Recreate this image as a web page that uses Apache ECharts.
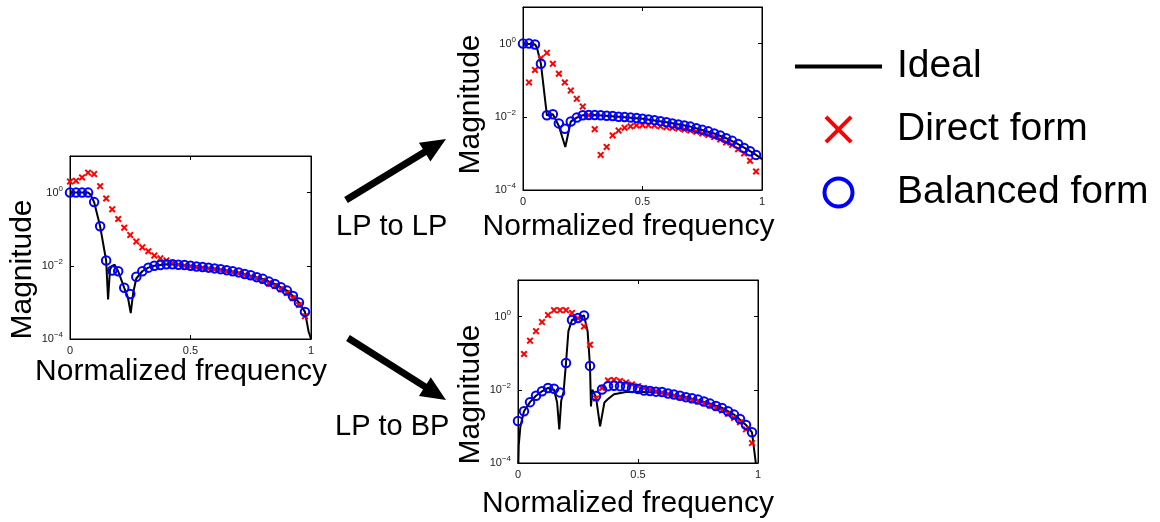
<!DOCTYPE html>
<html>
<head>
<meta charset="utf-8">
<script src="https://cdn.jsdelivr.net/npm/echarts@6/dist/echarts.min.js"></script>
<style>
  html, body { margin: 0; padding: 0; background: #fff; }
  #main { width: 1160px; height: 522px; }
</style>
</head>
<body>
<div id="main"></div>
<script>
// sample frequencies of the marker series
var freq = [0, 0.025, 0.05, 0.075, 0.1, 0.125, 0.15, 0.175, 0.2, 0.225,
  0.25, 0.275, 0.3, 0.325, 0.35, 0.375, 0.4, 0.425, 0.45, 0.475,
  0.5, 0.525, 0.55, 0.575, 0.6, 0.625, 0.65, 0.675, 0.7, 0.725,
  0.75, 0.775, 0.8, 0.825, 0.85, 0.875, 0.9, 0.925, 0.95, 0.975];

// left plot: LP prototype
var idealX1 = [0, 0.075, 0.085, 0.1, 0.125, 0.15, 0.158, 0.166, 0.175, 0.185, 0.2, 0.225, 0.24, 0.252, 0.262,
  0.275, 0.3, 0.325, 0.35, 0.4, 0.45, 0.5, 0.6, 0.7, 0.8, 0.85, 0.9, 0.925, 0.95, 0.975, 0.99, 1.0];
var ideal1 = [1, 1, 0.89, 0.55, 0.12, 0.014, 0.0012, 0.0079, 0.01, 0.0107, 0.0071, 0.0025, 0.0014, 0.00051, 0.0018,
  0.0045, 0.0071, 0.0089, 0.01, 0.011, 0.0107, 0.01, 0.0085, 0.0066, 0.0044, 0.0032, 0.0021, 0.0015, 0.001, 0.00055, 0.00016, 0.0001];
var direct1 = [2.0, 2.1, 2.6, 3.5, 3.2, 1.5, 0.69, 0.35, 0.19, 0.11,
  0.069, 0.046, 0.032, 0.025, 0.019, 0.016, 0.014, 0.012, 0.0107, 0.010,
  0.0095, 0.0091, 0.0087, 0.0083, 0.0079, 0.0076, 0.0071, 0.0066, 0.0062, 0.0056,
  0.005, 0.0045, 0.0039, 0.0033, 0.0028, 0.0023, 0.0018, 0.0013, 0.00085, 0.00042];
var balanced1 = [1, 1, 1, 1, 0.55, 0.12, 0.014, 0.0074, 0.0071, 0.0025,
  0.0017, 0.005, 0.0071, 0.0089, 0.010, 0.0105, 0.011, 0.011, 0.0107, 0.0105,
  0.010, 0.0096, 0.0093, 0.0089, 0.0085, 0.0081, 0.0076, 0.0071, 0.0066, 0.006,
  0.0055, 0.0049, 0.0044, 0.0037, 0.0032, 0.0026, 0.0021, 0.0015, 0.001, 0.00055];

// top right plot: LP to LP
var idealX2 = [0, 0.05, 0.058, 0.075, 0.1, 0.125, 0.15, 0.177, 0.2, 0.225, 0.25, 0.3,
  0.4, 0.5, 0.6, 0.7, 0.8, 0.85, 0.9, 0.95, 0.975, 1.0];
var ideal2 = [1, 0.95, 0.79, 0.28, 0.011, 0.0117, 0.0056, 0.0015, 0.0074, 0.0095, 0.011, 0.0112,
  0.01, 0.0089, 0.0071, 0.0054, 0.0035, 0.0026, 0.0018, 0.00115, 0.00091, 0.0007];
var direct2 = [null, 0.087, 0.19, 0.4, 0.56, 0.28, 0.15, 0.087, 0.052, 0.031,
  0.019, 0.011, 0.0046, 0.00091, 0.0015, 0.0031, 0.0042, 0.005, 0.0055, 0.0058,
  0.0059, 0.0059, 0.0058, 0.0055, 0.0052, 0.005, 0.0048, 0.0045, 0.0042, 0.0039,
  0.0035, 0.0032, 0.0028, 0.0024, 0.002, 0.0017, 0.0013, 0.001, 0.00063, 0.00032];
var balanced2 = [1, 1, 0.95, 0.28, 0.011, 0.0117, 0.0066, 0.0047, 0.0074, 0.0095,
  0.011, 0.0112, 0.0112, 0.011, 0.0107, 0.0105, 0.010, 0.0098, 0.0095, 0.0093,
  0.0089, 0.0085, 0.0081, 0.0076, 0.0071, 0.0066, 0.0062, 0.0058, 0.0054, 0.0049,
  0.0044, 0.004, 0.0035, 0.0031, 0.0026, 0.0022, 0.0018, 0.0014, 0.00115, 0.00091];

// bottom right plot: LP to BP
var idealX3 = [0, 0.003, 0.01, 0.025, 0.05, 0.075, 0.1, 0.125, 0.15, 0.163, 0.172, 0.18, 0.19, 0.2,
  0.21, 0.225, 0.25, 0.275, 0.29, 0.3, 0.304, 0.31, 0.325, 0.342, 0.36, 0.375, 0.4, 0.45, 0.5,
  0.6, 0.7, 0.8, 0.85, 0.9, 0.95, 0.975, 0.99, 1.0];
var ideal3 = [0.00003, 0.0003, 0.001, 0.0026, 0.0046, 0.0069, 0.0091, 0.0112, 0.01, 0.0045, 0.00083, 0.005, 0.0089, 0.054,
  0.4, 0.81, 0.91, 1.07, 0.4, 0.045, 0.0035, 0.01, 0.0063, 0.001, 0.0045, 0.0056, 0.0076, 0.0087, 0.0089,
  0.0083, 0.0063, 0.0042, 0.0032, 0.0021, 0.0011, 0.00069, 0.00011, 0.00003];
var direct3 = [null, 0.095, 0.22, 0.4, 0.71, 1.1, 1.5, 1.5, 1.5, 1.26,
  0.89, 0.54, 0.17, 0.0058, 0.0112, 0.018, 0.0186, 0.0174, 0.0158, 0.014,
  0.0126, 0.0112, 0.01, 0.0091, 0.0083, 0.0076, 0.0069, 0.0063, 0.0058, 0.0052,
  0.0048, 0.0043, 0.0037, 0.0032, 0.0027, 0.0022, 0.0017, 0.0013, 0.00083, 0.00035];
var balanced3 = [0.0014, 0.0026, 0.0046, 0.0069, 0.0091, 0.0112, 0.0107, 0.0085, 0.054, 0.81,
  0.91, 1.07, 0.045, 0.0068, 0.0102, 0.0126, 0.0129, 0.0126, 0.0123, 0.0112,
  0.0105, 0.0095, 0.0093, 0.0089, 0.0087, 0.0079, 0.0074, 0.0069, 0.0063, 0.0059,
  0.0054, 0.0048, 0.0042, 0.0036, 0.0032, 0.0026, 0.0021, 0.0016, 0.0011, 0.00069];

var yMin = 1e-4, yMax = 10;

var FONT = "'Liberation Sans', Arial, Helvetica, sans-serif";
var X_PATH = 'path://M0,2L2,0L5,3L8,0L10,2L7,5L10,8L8,10L5,7L2,10L0,8L3,5Z';

var chart = echarts.init(document.getElementById('main'), null, { renderer: 'canvas' });

function pairs(xs, ys) {
  var out = [];
  for (var i = 0; i < ys.length; i++) {
    if (ys[i] != null) out.push([xs[i], ys[i]]);
  }
  return out;
}

function supLabel(v) {
  var e = Math.round(Math.log10(v));
  return '{b|10}{s|' + (e < 0 ? '\u2212' + (-e) : e) + '}';
}

// panel layout (grid boxes and axis name placement)
var panels = [
  { box: { left: 70, top: 156, width: 241, height: 183 }, gapX: 18, gapY: 32, shiftX: 19, shiftY: 44,
    ix: idealX1, iy: ideal1, d: direct1, b: balanced1 },
  { box: { left: 523, top: 7, width: 239, height: 183 }, gapX: 22, gapY: 37, shiftX: 28, shiftY: 12,
    ix: idealX2, iy: ideal2, d: direct2, b: balanced2 },
  { box: { left: 518, top: 280, width: 240, height: 183 }, gapX: 26, gapY: 31, shiftX: 20, shiftY: 46,
    ix: idealX3, iy: ideal3, d: direct3, b: balanced3 }
];

var lineBlack = { show: true, onZero: false, lineStyle: { color: '#000', width: 1 } };
var tickIn = { show: true, inside: true, length: 4, lineStyle: { color: '#000' } };

var grids = [], xAxes = [], yAxes = [], series = [];
panels.forEach(function (p, k) {
  grids.push(Object.assign({
    outerBoundsMode: 'none', containLabel: false,
    show: true, borderColor: '#000', borderWidth: 1, backgroundColor: 'rgba(0,0,0,0)'
  }, p.box));
  // bottom / left axes
  xAxes.push({
    type: 'value', gridIndex: k, min: 0, max: 1, interval: 0.5,
    name: 'Normalized frequency', nameLocation: 'middle', nameGap: p.gapX,
    nameTextStyle: { fontSize: 30, fontFamily: FONT, color: '#000', padding: [0, p.shiftX, 0, 0] },
    axisLine: lineBlack, axisTick: tickIn,
    axisLabel: { fontSize: 11, fontFamily: FONT, color: '#222', margin: 6 },
    splitLine: { show: false }
  });
  yAxes.push({
    type: 'log', logBase: 10, gridIndex: k, min: yMin, max: yMax, interval: 2,
    name: 'Magnitude', nameLocation: 'middle', nameGap: p.gapY,
    nameTextStyle: { fontSize: 30, fontFamily: FONT, color: '#000', padding: [0, p.shiftY, 0, 0] },
    axisLine: lineBlack, axisTick: tickIn,
    axisLabel: {
      formatter: supLabel, margin: 7, showMaxLabel: false,
      rich: {
        b: { fontSize: 11, fontFamily: FONT, color: '#222' },
        s: { fontSize: 8, fontFamily: FONT, color: '#222', padding: [0, 0, 8, 0] }
      }
    },
    splitLine: { show: false }
  });
});
// mirrored top / right axes carry the inner ticks of the closed box
panels.forEach(function (p, k) {
  xAxes.push({
    type: 'value', gridIndex: k, position: 'top', min: 0, max: 1, interval: 0.5,
    axisLine: lineBlack, axisTick: tickIn,
    axisLabel: { show: false }, splitLine: { show: false }
  });
  yAxes.push({
    type: 'log', logBase: 10, gridIndex: k, position: 'right', min: yMin, max: yMax, interval: 2,
    axisLine: lineBlack, axisTick: tickIn,
    axisLabel: { show: false }, splitLine: { show: false }
  });
});

panels.forEach(function (p, k) {
  series.push({
    name: 'Ideal', type: 'line', xAxisIndex: k, yAxisIndex: k,
    data: pairs(p.ix, p.iy), symbol: 'none', clip: true, z: 2,
    lineStyle: { color: '#000', width: 2 }, itemStyle: { color: '#000' }, animation: false
  });
  series.push({
    name: 'Direct form', type: 'scatter', xAxisIndex: k, yAxisIndex: k,
    data: pairs(freq, p.d), symbol: X_PATH, symbolSize: 7, z: 3,
    itemStyle: { color: '#ff0000', opacity: 1 }, animation: false
  });
  series.push({
    name: 'Balanced form', type: 'scatter', xAxisIndex: k, yAxisIndex: k,
    data: pairs(freq, p.b), symbol: 'circle', symbolSize: 8.5, z: 4,
    itemStyle: { color: 'rgba(0,0,0,0)', borderColor: '#0000ff', borderWidth: 2, opacity: 1 }, animation: false
  });
});

// arrow polygon from tail to tip
function arrow(tail, tip, w, headLen, headHalf) {
  var dx = tip[0] - tail[0], dy = tip[1] - tail[1];
  var L = Math.sqrt(dx * dx + dy * dy);
  var ux = dx / L, uy = dy / L, nx = -uy, ny = ux;
  var neck = [tip[0] - ux * headLen, tip[1] - uy * headLen];
  return [
    [tail[0] + nx * w / 2, tail[1] + ny * w / 2],
    [neck[0] + nx * w / 2, neck[1] + ny * w / 2],
    [neck[0] + nx * headHalf, neck[1] + ny * headHalf],
    tip,
    [neck[0] - nx * headHalf, neck[1] - ny * headHalf],
    [neck[0] - nx * w / 2, neck[1] - ny * w / 2],
    [tail[0] - nx * w / 2, tail[1] - ny * w / 2]
  ];
}

var option = {
  backgroundColor: '#fff',
  animation: false,
  grid: grids,
  xAxis: xAxes,
  yAxis: yAxes,
  series: series,
  legend: {
    orient: 'vertical', left: 795, top: 47, padding: 0,
    itemWidth: 87, itemHeight: 28, itemGap: 24,
    textStyle: { fontSize: 39, fontFamily: FONT, color: '#000', padding: [0, 0, 0, 10] },
    data: [
      { name: 'Ideal', icon: 'path://M0,0L87,0L87,4L0,4Z', itemStyle: { color: '#000', opacity: 1 } },
      { name: 'Direct form', icon: 'path://M0,1L1,0L5,4L9,0L10,1L6,5L10,9L9,10L5,6L1,10L0,9L4,5Z',
        itemStyle: { color: '#ff0000', opacity: 1 } },
      { name: 'Balanced form', icon: 'circle',
        itemStyle: { color: 'rgba(0,0,0,0)', borderColor: '#0000ff', borderWidth: 4, opacity: 1 } }
    ]
  },
  graphic: [
    { type: 'polygon', shape: { points: arrow([346, 200], [446, 139], 7, 25, 11) }, style: { fill: '#000' } },
    { type: 'polygon', shape: { points: arrow([348, 338], [446, 400], 7, 25, 11) }, style: { fill: '#000' } },
    { type: 'text', x: 336, y: 227, style: { text: 'LP to LP', font: '29px ' + FONT, fill: '#000', verticalAlign: 'middle' } },
    { type: 'text', x: 335, y: 427, style: { text: 'LP to BP', font: '29px ' + FONT, fill: '#000', verticalAlign: 'middle' } }
  ]
};

chart.setOption(option);
</script>
</body>
</html>
